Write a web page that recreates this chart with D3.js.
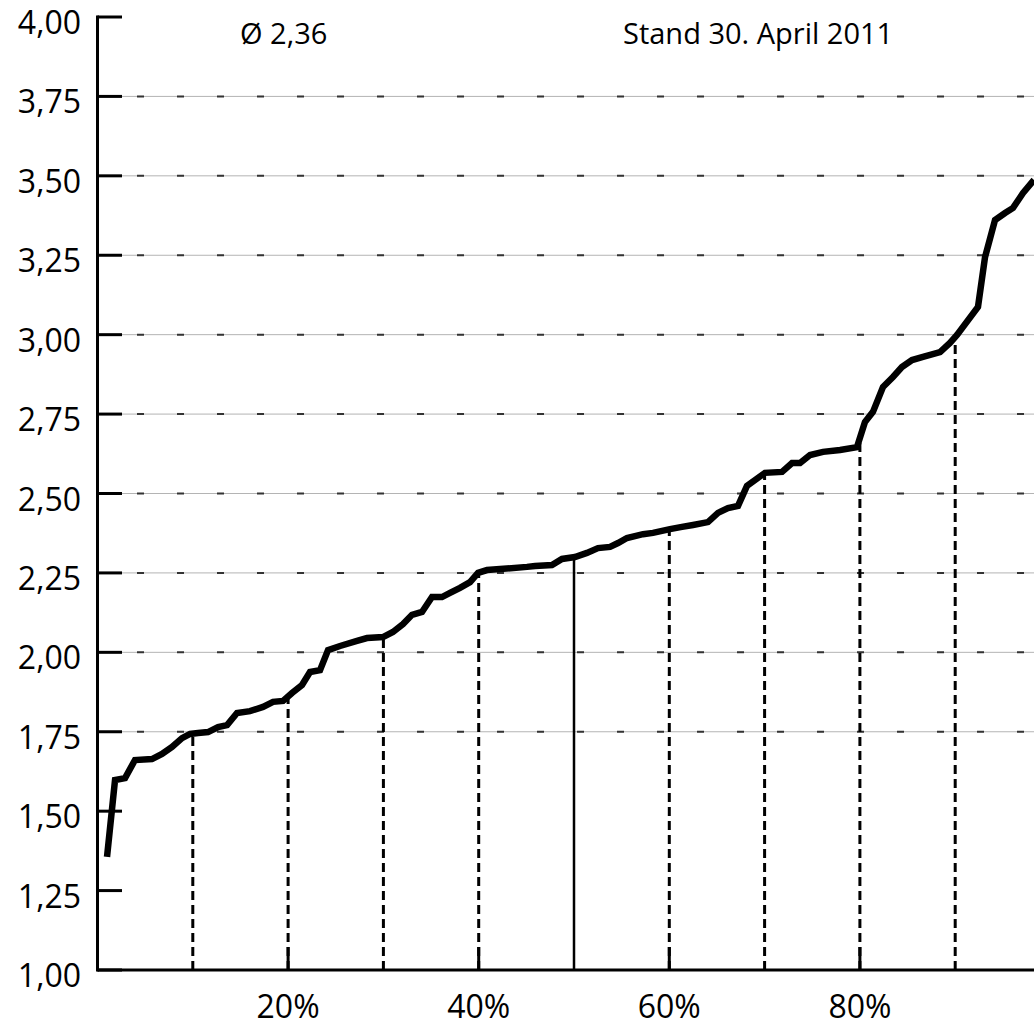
<!DOCTYPE html>
<html>
<head>
<meta charset="utf-8">
<script src="https://cdn.jsdelivr.net/npm/d3@7"></script>
<style>
  body { margin: 0; background: #fff; }
</style>
</head>
<body>
<div id="chart"></div>
<script>
/////////////////////////////////////////
//////////////// DATA ///////////////////
/////////////////////////////////////////

// share of schools (%) and the grade reached at that share
const percentiles = [1.0, 1.84, 2.89, 3.93, 5.72, 6.77, 7.82, 8.87, 9.71, 10.55,
    11.6, 12.65, 13.6, 14.64, 16.0, 17.37, 18.42, 19.47, 20.41, 21.46,
    22.3, 23.35, 24.19, 25.45, 27.23, 28.28, 29.96, 31.0, 32.06, 33.0,
    34.05, 35.1, 36.15, 36.99, 38.04, 39.09, 39.93, 40.87, 42.24, 45.07,
    45.91, 47.69, 48.74, 50.1, 51.36, 52.52, 53.78, 54.62, 55.56, 57.24,
    58.29, 60.07, 61.33, 62.49, 64.06, 65.11, 66.16, 67.21, 68.15, 70.04,
    71.83, 72.88, 73.72, 74.77, 76.13, 77.92, 79.69, 80.53, 81.37, 82.42,
    83.47, 84.41, 85.47, 86.62, 88.41, 89.45, 90.19, 92.39, 93.13, 94.18,
    95.23, 96.07, 97.12, 98.27];

const grades = [1.356, 1.598, 1.604, 1.661, 1.664, 1.680, 1.702, 1.730, 1.743, 1.746,
    1.749, 1.765, 1.771, 1.809, 1.815, 1.828, 1.844, 1.847, 1.872, 1.897,
    1.938, 1.944, 2.007, 2.020, 2.036, 2.045, 2.048, 2.064, 2.089, 2.118,
    2.127, 2.174, 2.174, 2.187, 2.203, 2.221, 2.250, 2.259, 2.262, 2.269,
    2.272, 2.275, 2.294, 2.300, 2.313, 2.328, 2.332, 2.344, 2.360, 2.372,
    2.376, 2.388, 2.395, 2.401, 2.410, 2.439, 2.454, 2.461, 2.524, 2.565,
    2.568, 2.596, 2.596, 2.621, 2.631, 2.637, 2.646, 2.725, 2.757, 2.835,
    2.867, 2.898, 2.920, 2.930, 2.945, 2.974, 2.999, 3.087, 3.244, 3.361,
    3.383, 3.399, 3.446, 3.487];

const yTicks = [1.00, 1.25, 1.50, 1.75, 2.00, 2.25, 2.50, 2.75, 3.00, 3.25, 3.50, 3.75, 4.00];
const gridTicks = [1.75, 2.00, 2.25, 2.50, 2.75, 3.00, 3.25, 3.50, 3.75];
const xTicks = [20, 40, 60, 80];
const markers = [10, 20, 30, 40, 50, 60, 70, 80, 90]; // 50 = median, drawn solid

const meanLabel = "Ø 2,36";
const dateLabel = "Stand 30. April 2011";

/////////////////////////////////////////
/////////////// SETUP ///////////////////
/////////////////////////////////////////

const WIDTH = 1034;
const HEIGHT = 1027;
const FONT = "'Open Sans', 'Noto Sans', sans-serif";

const svg = d3.select("#chart").append("svg")
    .attr("width", WIDTH)
    .attr("height", HEIGHT)
    .style("display", "block");

const x = d3.scaleLinear().domain([0, 100]).range([97.5, 1050.5]);
const y = d3.scaleLinear().domain([1, 4]).range([970, 17]);

const points = percentiles.map((p, i) => ({p: p, v: grades[i]}));

// grade at a given share, linear between read points
const bisect = d3.bisector(d => d.p).left;
function gradeAt(p) {
    const i = bisect(points, p);
    const a = points[i - 1], b = points[i];
    return a.v + (b.v - a.v) * (p - a.p) / (b.p - a.p);
}

/////////////////////////////////////////
/////////////// GRID ////////////////////
/////////////////////////////////////////

const grid = svg.append("g");

grid.selectAll(".grid-thin")
    .data(gridTicks)
    .join("line")
    .attr("x1", 122).attr("x2", WIDTH)
    .attr("y1", d => y(d)).attr("y2", d => y(d))
    .attr("stroke", "#b4b4b4")
    .attr("stroke-width", 1);

grid.selectAll(".grid-dash")
    .data(gridTicks)
    .join("line")
    .attr("x1", 122).attr("x2", WIDTH)
    .attr("y1", d => y(d)).attr("y2", d => y(d))
    .attr("stroke", "#333")
    .attr("stroke-width", 2)
    .attr("stroke-dasharray", "0,15,7,18");

/////////////////////////////////////////
////////////// MARKERS //////////////////
/////////////////////////////////////////

svg.append("g").selectAll("line")
    .data(markers)
    .join("line")
    .attr("x1", d => x(d)).attr("x2", d => x(d))
    .attr("y1", y(1)).attr("y2", d => y(gradeAt(d)))
    .attr("stroke", "#000")
    .attr("stroke-width", d => d === 50 ? 2.5 : 3)
    .attr("stroke-dasharray", d => d === 50 ? null : "9,5");

/////////////////////////////////////////
/////////////// AXES ////////////////////
/////////////////////////////////////////

const axes = svg.append("g").attr("stroke", "#000").attr("stroke-width", 3);

axes.append("line")
    .attr("x1", x(0)).attr("x2", x(0))
    .attr("y1", y(4) - 1.5).attr("y2", y(1) + 1.5);

axes.append("line")
    .attr("x1", x(0)).attr("x2", WIDTH)
    .attr("y1", y(1)).attr("y2", y(1));

axes.selectAll(".ytick")
    .data(yTicks)
    .join("line")
    .attr("x1", x(0)).attr("x2", 122)
    .attr("y1", d => y(d)).attr("y2", d => y(d));

axes.selectAll(".xtick")
    .data(xTicks)
    .join("line")
    .attr("x1", d => x(d)).attr("x2", d => x(d))
    .attr("y1", y(1) - 23).attr("y2", y(1));

svg.append("g").selectAll("text")
    .data(yTicks)
    .join("text")
    .attr("x", 81)
    .attr("y", d => y(d) + 17)
    .attr("text-anchor", "end")
    .attr("font-family", FONT)
    .attr("font-size", 32)
    .attr("fill", "#000")
    .text(d => d3.format(".2f")(d).replace(".", ","));

svg.append("g").selectAll("text")
    .data(xTicks)
    .join("text")
    .attr("x", d => x(d))
    .attr("y", 1018)
    .attr("text-anchor", "middle")
    .attr("font-family", FONT)
    .attr("font-size", 32)
    .attr("fill", "#000")
    .text(d => d + "%");

/////////////////////////////////////////
/////////////// CURVE ///////////////////
/////////////////////////////////////////

const line = d3.line()
    .x(d => x(d.p))
    .y(d => y(d.v));

svg.append("path")
    .datum(points)
    .attr("d", line)
    .attr("fill", "none")
    .attr("stroke", "#000")
    .attr("stroke-width", 6.5)
    .attr("stroke-linejoin", "miter");

/////////////////////////////////////////
/////////////// LABELS //////////////////
/////////////////////////////////////////

svg.append("text")
    .attr("x", 240).attr("y", 44)
    .attr("font-family", FONT).attr("font-size", 29)
    .text(meanLabel);

svg.append("text")
    .attr("x", 623).attr("y", 44)
    .attr("font-family", FONT).attr("font-size", 29)
    .text(dateLabel);
</script>
</body>
</html>
